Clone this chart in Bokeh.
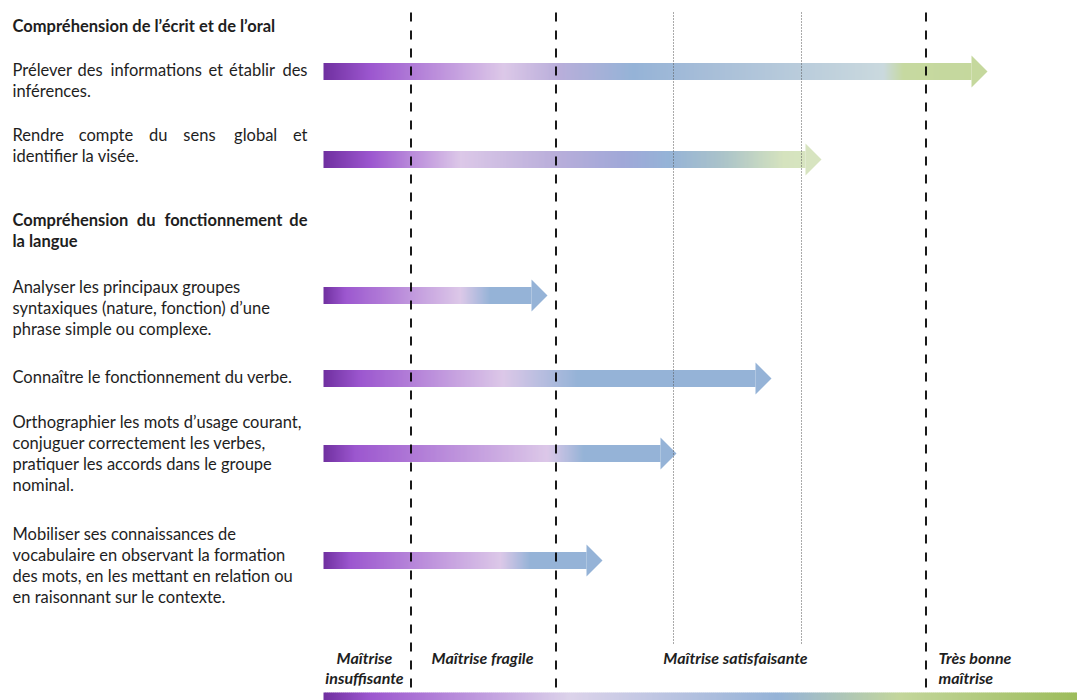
from bokeh.plotting import figure
from bokeh.models import Range1d, ColumnDataSource
from bokeh.core.properties import value
from bokeh.embed import file_html
from bokeh.resources import INLINE

# ---------------- data ----------------
SECTIONS = ["Compréhension de l’écrit et de l’oral",
            "Compréhension du fonctionnement de la langue"]
SKILLS = [
    "Prélever des informations et établir des inférences.",
    "Rendre compte du sens global et identifier la visée.",
    "Analyser les principaux groupes syntaxiques (nature, fonction) d’une phrase simple ou complexe.",
    "Connaître le fonctionnement du verbe.",
    "Orthographier les mots d’usage courant, conjuguer correctement les verbes, pratiquer les accords dans le groupe nominal.",
    "Mobiliser ses connaissances de vocabulaire en observant la formation des mots, en les mettant en relation ou en raisonnant sur le contexte.",
]
ARROW_START = 323
ARROW_END = [987, 821, 547, 771, 676, 602]
LEVELS = ["Maîtrise insuffisante", "Maîtrise fragile",
          "Maîtrise satisfaisante", "Très bonne maîtrise"]
LEVEL_BOUNDS = [410.5, 555.5, 925.5]
SUB_BOUNDS = [673, 801]
SCALE_END = 1077

# ---------------- layout / style ----------------
W, H = 1077, 700
FONT = "Lato"
TXT = "#1e1e1e"
BODY_FS = "16.5px"
HEAD_FS = "16.5px"
LVL_FS = "16px"

SKILL_WRAP = [
    ["Prélever des informations et établir des", "inférences."],
    ["Rendre compte du sens global et", "identifier la visée."],
    ["Analyser les principaux groupes", "syntaxiques (nature, fonction) d’une",
     "phrase simple ou complexe."],
    ["Connaître le fonctionnement du verbe."],
    ["Orthographier les mots d’usage courant,", "conjuguer correctement les verbes,",
     "pratiquer les accords dans le groupe", "nominal."],
    ["Mobiliser ses connaissances de", "vocabulaire en observant la formation",
     "des mots, en les mettant en relation ou", "en raisonnant sur le contexte."],
]
SKILL_Y0 = [69, 134, 286, 376, 421, 533]
LINE_H = 21.3
ARROW_Y = [71, 159, 295, 378, 453, 560]
SECTION_WRAP = [["Compréhension de l’écrit et de l’oral"],
                ["Compréhension du fonctionnement de", "la langue"]]
SECTION_Y0 = [25, 219]
# justified lines: approximate rendered word widths (px) used to spread words
JUSTIFY = {
    "Prélever des informations et établir des": [56.7, 24.7, 89.7, 12.4, 45.4, 24.7],
    "Rendre compte du sens global et": [49.5, 53.6, 17.5, 34.0, 44.3, 12.4],
    "Compréhension du fonctionnement de": [115.5, 18.7, 115.5, 18.7],
}
JUST_RIGHT = 307
TEXT_X = 12

BODY_HALF = 8.5
HEAD_HALF = 16
HEAD_LEN = 16

PURPLE_D = "#7030A0"
PURPLE_M = "#9C57CF"
LAV = "#DCC8E8"
BLUE = "#95B3D7"
ARROW_STOPS = [
    [(0, PURPLE_D), (47, PURPLE_M), (180, LAV), (235, "#B9AEDA"), (310, BLUE),
     (380, "#A6BDD8"), (560, "#CAD9DE"), (580, "#C6D9A0"), (700, "#C4D79B")],
    [(0, PURPLE_D), (47, PURPLE_M), (137, LAV), (232, "#B9AEDA"), (300, "#A0A8D8"),
     (345, BLUE), (400, "#ABC3C9"), (460, "#D5E3BE"), (520, "#DAE6C3")],
    [(0, PURPLE_D), (22, PURPLE_M), (137, LAV), (167, BLUE), (300, BLUE)],
    [(0, PURPLE_D), (37, PURPLE_M), (180, LAV), (254, BLUE), (500, BLUE)],
    [(0, PURPLE_D), (32, PURPLE_M), (224, LAV), (260, BLUE), (400, BLUE)],
    [(0, PURPLE_D), (27, PURPLE_M), (177, LAV), (207, BLUE), (300, BLUE)],
]
SCALE_STOPS = [(0, PURPLE_D), (47, PURPLE_M), (247, "#DCD3EA"), (454, BLUE),
               (577, "#C3D69B"), (760, "#9BBB59")]
SCALE_Y = (692, 700)


def hex2rgb(h):
    h = h.lstrip("#")
    return tuple(int(h[i:i + 2], 16) for i in (0, 2, 4))


def mix(c0, c1, t):
    a, b = hex2rgb(c0), hex2rgb(c1)
    return "#%02x%02x%02x" % tuple(round(a[i] + (b[i] - a[i]) * t) for i in range(3))


def color_at(stops, d):
    if d <= stops[0][0]:
        return stops[0][1]
    for (x0, c0), (x1, c1) in zip(stops, stops[1:]):
        if x0 <= d <= x1:
            return mix(c0, c1, (d - x0) / (x1 - x0) if x1 > x0 else 0)
    return stops[-1][1]


p = figure(width=W, height=H, x_range=Range1d(0, W), y_range=Range1d(H, 0),
           output_backend="svg", toolbar_location=None, min_border=0,
           background_fill_color="white", border_fill_color="white")
p.axis.visible = False
p.grid.visible = False
p.outline_line_color = None

# ---- gradient arrows ----
STEP = 2.0
ql, qr, qt, qb, qc = [], [], [], [], []
hx, hy, hc = [], [], []
for end, yc, stops in zip(ARROW_END, ARROW_Y, ARROW_STOPS):
    hs = end - HEAD_LEN
    x = ARROW_START
    while x < hs:
        x1 = min(x + STEP, hs)
        ql.append(x); qr.append(min(x1 + 0.6, hs)); qt.append(yc - BODY_HALF); qb.append(yc + BODY_HALF)
        qc.append(color_at(stops, (x + x1) / 2 - ARROW_START))
        x = x1
    hx.append([hs, hs, end]); hy.append([yc - HEAD_HALF, yc + HEAD_HALF, yc])
    hc.append(color_at(stops, hs - ARROW_START))

# bottom scale bar
x = ARROW_START
while x < SCALE_END:
    x1 = min(x + STEP, SCALE_END)
    ql.append(x); qr.append(min(x1 + 0.6, SCALE_END)); qt.append(SCALE_Y[0]); qb.append(SCALE_Y[1])
    qc.append(color_at(SCALE_STOPS, (x + x1) / 2 - ARROW_START))
    x = x1

p.quad(left=ql, right=qr, top=qt, bottom=qb, fill_color=qc, line_color=None)
p.patches(xs=hx, ys=hy, fill_color=hc, line_color=None)

# ---- boundary lines ----
p.segment(x0=LEVEL_BOUNDS, x1=LEVEL_BOUNDS, y0=[12] * 3, y1=[690] * 3,
          line_color="black", line_width=2, line_dash="9 9", line_alpha=0.9)
p.segment(x0=SUB_BOUNDS, x1=SUB_BOUNDS, y0=[12] * 2, y1=[645] * 2,
          line_color="#555555", line_width=1, line_dash="1 2")

# ---- texts ----
body = dict(x=[], y=[], t=[], a=[])
bold = dict(x=[], y=[], t=[], a=[])


def put(store, line, y):
    if line in JUSTIFY:
        words = line.split(" ")
        widths = JUSTIFY[line]
        gap = (JUST_RIGHT - TEXT_X - sum(widths)) / (len(words) - 1)
        xx = TEXT_X
        for i, (w_, ww) in enumerate(zip(words, widths)):
            if i == len(words) - 1:
                store["x"].append(JUST_RIGHT); store["a"].append("right")
            else:
                store["x"].append(xx); store["a"].append("left")
            store["y"].append(y); store["t"].append(w_)
            xx += ww + gap
    else:
        store["x"].append(TEXT_X); store["y"].append(y); store["t"].append(line); store["a"].append("left")


for lines, y0 in zip(SKILL_WRAP, SKILL_Y0):
    for i, ln in enumerate(lines):
        put(body, ln, y0 + i * LINE_H)
for lines, y0 in zip(SECTION_WRAP, SECTION_Y0):
    for i, ln in enumerate(lines):
        put(bold, ln, y0 + i * LINE_H)

p.text(x="x", y="y", text="t", text_align="a", source=ColumnDataSource(body),
       text_font=value(FONT), text_font_size=BODY_FS, text_color=TXT, text_baseline="middle")
p.text(x="x", y="y", text="t", text_align="a", source=ColumnDataSource(bold),
       text_font=value(FONT), text_font_size=HEAD_FS, text_font_style="bold",
       text_color=TXT, text_baseline="middle")

# level labels
LEVEL_WRAP = [["Maîtrise", "insuffisante"], ["Maîtrise fragile"],
              ["Maîtrise satisfaisante"], ["Très bonne", "maîtrise"]]
LEVEL_X = [364, 482, 735, 938]
LEVEL_ALIGN = ["center", "center", "center", "left"]
lv = dict(x=[], y=[], t=[], a=[])
for lines, xx, al in zip(LEVEL_WRAP, LEVEL_X, LEVEL_ALIGN):
    for i, ln in enumerate(lines):
        lv["x"].append(xx); lv["y"].append(657 + i * 20); lv["t"].append(ln); lv["a"].append(al)
p.text(x="x", y="y", text="t", text_align="a", source=ColumnDataSource(lv),
       text_font=value(FONT), text_font_size=LVL_FS, text_font_style="bold italic",
       text_color=TXT, text_baseline="middle")

open("out.html", "w").write(file_html(p, INLINE))
